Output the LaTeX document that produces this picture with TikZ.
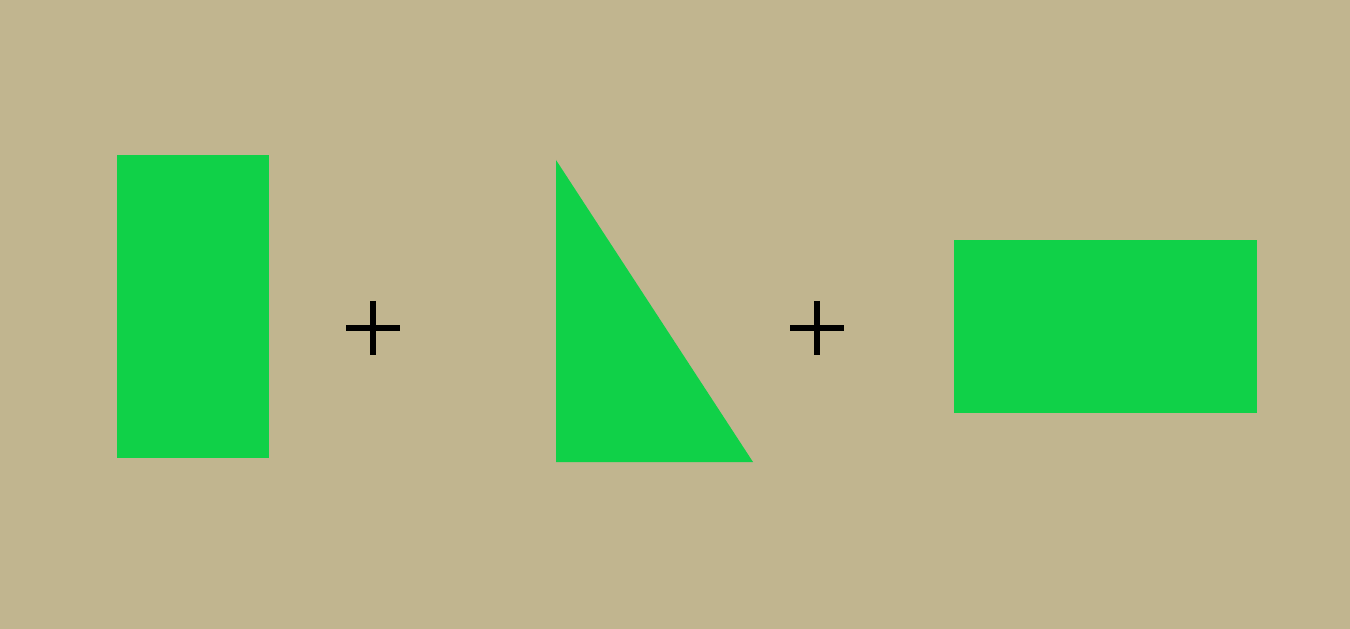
\documentclass[tikz,border=0pt]{standalone}
\definecolor{bg}{RGB}{193,181,143}
\definecolor{shapegreen}{RGB}{16,209,72}
\tikzset{
  shapefill/.style={fill=shapegreen, draw=none},
  plusbar/.style={draw=black, line width=4.5pt}
}
\begin{document}
\begin{tikzpicture}[x=0.03cm, y=-0.03cm]
  \fill[bg] (0,0) rectangle (1350,629);
  \useasboundingbox (0,0) rectangle (1350,629);
  % tall rectangle
  \path[shapefill] (117,155) rectangle (269,458);
  % right triangle
  \path[shapefill] (556,160) -- (556,462) -- (753,462) -- cycle;
  % wide rectangle
  \path[shapefill] (954,240) rectangle (1257,413);
  % plus signs
  \coordinate (p1) at (373,328);
  \coordinate (p2) at (817,328);
  \foreach \p in {p1,p2} {
    \draw[plusbar] ([xshift=-27*0.03cm]\p) -- ([xshift=27*0.03cm]\p);
    \draw[plusbar] ([yshift=27*0.03cm]\p) -- ([yshift=-27*0.03cm]\p);
  }
\end{tikzpicture}
\end{document}
